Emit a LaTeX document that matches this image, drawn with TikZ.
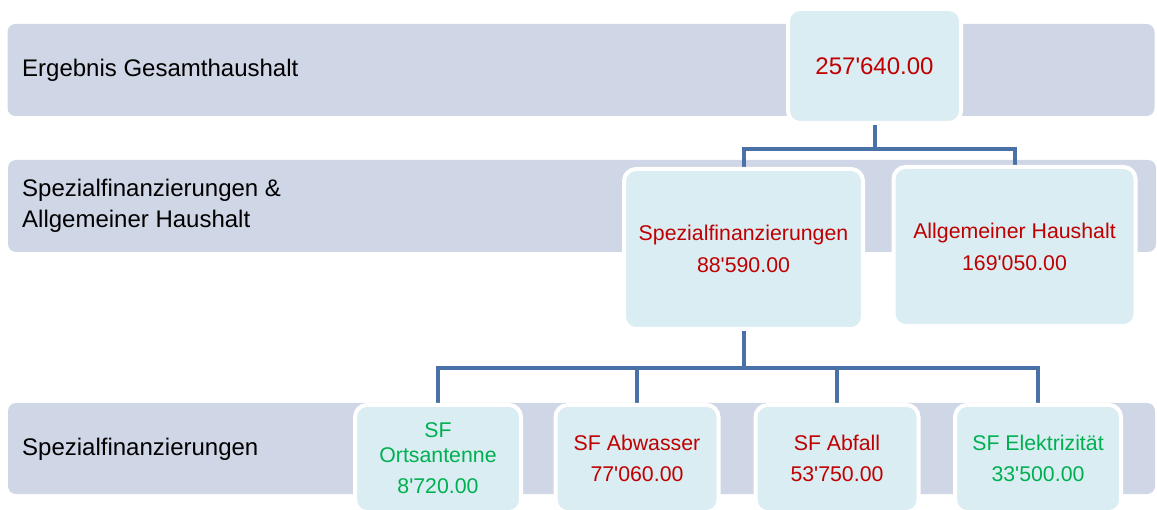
\documentclass[tikz,border=0pt]{standalone}
\usepackage{fontspec}
\setmainfont{Liberation Sans}
\newcommand{\ap}{\textquotesingle}
\definecolor{bandc}{HTML}{CFD6E5}
\definecolor{boxc}{HTML}{DAEDF3}
\definecolor{connc}{HTML}{4A70A8}
\definecolor{redt}{HTML}{C00000}
\definecolor{greent}{HTML}{00B050}
\pgfdeclarelayer{bandlayer}
\pgfdeclarelayer{connlayer}
\pgfsetlayers{bandlayer,connlayer,main}
\tikzset{
  band/.style={rectangle, rounded corners=8pt, fill=bandc, inner sep=0pt},
  bandlabel/.style={anchor=west, align=left, inner sep=0pt, font=\fontsize{24}{31}\selectfont},
  orgbox/.style={rectangle, rounded corners=12pt, fill=boxc, draw=white, line width=4pt, inner sep=0pt, align=center},
  midtext/.style={font=\fontsize{21.3}{24.5}\selectfont},
  conn/.style={draw=connc, line width=4pt},
}
\begin{document}
\begin{tikzpicture}[x=1pt,y=-1pt]
\useasboundingbox (0,0) rectangle (1157,510);
\clip (0,0) rectangle (1157,510);
% bands
\begin{pgfonlayer}{bandlayer}
\node[band, minimum width=1147pt, minimum height=92pt] (band1) at (581,70) {};
\node[band, minimum width=1148pt, minimum height=92pt] (band2) at (582,206) {};
\node[band, minimum width=1147pt, minimum height=91pt] (band3) at (581.5,448.5) {};
\end{pgfonlayer}
\node[bandlabel] (l1) at (22,70) {Ergebnis Gesamthaushalt};
\node[bandlabel] (l2) at (22,206) {Spezialfinanzierungen \&\\Allgemeiner Haushalt};
\node[bandlabel] (l3) at (22,449) {Spezialfinanzierungen};
% boxes
\node[orgbox, minimum width=173pt, minimum height=114pt, font=\fontsize{24}{28}\selectfont, text=redt] (top) at (874.5,66) {257\ap640.00};
\node[orgbox, minimum width=239pt, minimum height=160pt, midtext, text=redt] (spez) at (743.5,249) {Spezialfinanzierungen\\[7.5pt]88\ap590.00};
\node[orgbox, minimum width=242pt, minimum height=159pt, midtext, text=redt] (allg) at (1014.5,246.5) {Allgemeiner Haushalt\\[7.5pt]169\ap050.00};
\node[orgbox, minimum width=166pt, minimum height=107pt, midtext, text=greent] (b1) at (438,458.5) {SF\\Ortsantenne\\[7pt]8\ap720.00};
\node[orgbox, minimum width=163pt, minimum height=107pt, midtext, text=redt] (b2) at (637,458.5) {SF Abwasser\\[6pt]77\ap060.00};
\node[orgbox, minimum width=163pt, minimum height=107pt, midtext, text=redt] (b3) at (837,458.5) {SF Abfall\\[6pt]53\ap750.00};
\node[orgbox, minimum width=166pt, minimum height=107pt, midtext, text=greent] (b4) at (1038,458.5) {SF Elektrizität\\[6pt]33\ap500.00};
% connectors
\coordinate (h1) at (874.5,149);
\coordinate (h2) at (742,368);
\begin{pgfonlayer}{connlayer}
\path[conn] (top.south) -- (top.south |- h1) -| (spez.north);
\path[conn] (top.south |- h1) -| (allg.north);
\path[conn] (spez.south) -- (spez.south |- h2) -| (b1.north);
\path[conn] (spez.south |- h2) -| (b2.north);
\path[conn] (spez.south |- h2) -| (b3.north);
\path[conn] (spez.south |- h2) -| (b4.north);
\end{pgfonlayer}
\end{tikzpicture}
\end{document}
